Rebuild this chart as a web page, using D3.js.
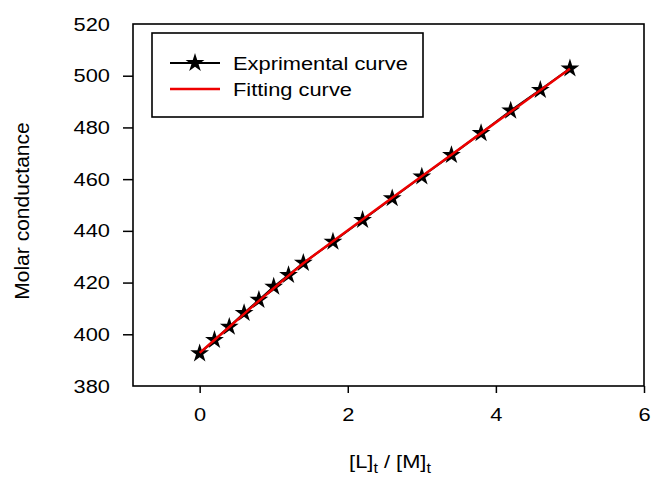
<!DOCTYPE html>
<html>
<head>
<meta charset="utf-8">
<script src="https://cdn.jsdelivr.net/npm/d3@7"></script>
<style>
  body { margin: 0; background: #fff; }
  text { font-family: 'Liberation Sans', Arial, sans-serif; }
</style>
</head>
<body>
<div id="chart"></div>
<script>
// data
var ratio = [0, 0.2, 0.4, 0.6, 0.8, 1.0, 1.2, 1.4, 1.8, 2.2, 2.6, 3.0, 3.4, 3.8, 4.2, 4.6, 5.0];
var experimental = [392.6, 397.8, 402.9, 408.2, 413.3, 418.4, 422.9, 427.6, 435.8, 444.2, 452.6, 461.0, 469.3, 477.8, 486.5, 494.5, 502.8];
var fitting = [392.8, 397.8, 402.8, 407.9, 412.9, 417.8, 422.7, 427.5, 436.0, 444.4, 452.8, 461.1, 469.4, 477.8, 486.1, 494.4, 502.7];
var xTicks = [0, 2, 4, 6];
var yTicks = [380, 400, 420, 440, 460, 480, 500, 520];
var legendLabels = ['Exprimental curve', 'Fitting curve'];

var width = 651, height = 479;
var margin = { top: 24, right: 7, bottom: 93, left: 133 };
var fs = 19;        // font size
var sx = 1.15;      // the original text is a bit wide

var svg = d3.select('#chart').append('svg')
    .attr('width', width)
    .attr('height', height);

var x = d3.scaleLinear().domain([-0.9, 6]).range([margin.left, width - margin.right]);
var y = d3.scaleLinear().domain([380, 520]).range([height - margin.bottom, margin.top]);

// axes
var xAxis = d3.axisBottom(x).tickValues(xTicks).tickFormat(d3.format('d'))
    .tickSize(7).tickPadding(15).tickSizeOuter(0);
var gx = svg.append('g')
    .attr('transform', 'translate(0,' + (height - margin.bottom) + ')')
    .call(xAxis);
var yAxis = d3.axisLeft(y).tickValues(yTicks.slice(1, -1)).tickFormat(d3.format('d'))
    .tickSize(10).tickSizeOuter(0);
var gy = svg.append('g')
    .attr('transform', 'translate(' + margin.left + ',0)')
    .call(yAxis);

// 380 and 520 labels have no tick mark
gy.selectAll('.endlabel')
    .data([yTicks[0], yTicks[yTicks.length - 1]])
    .join('text')
    .attr('class', 'endlabel')
    .attr('y', function(d) { return y(d); })
    .attr('dy', '0.35em')
    .attr('text-anchor', 'end')
    .text(function(d) { return d; });

[gx, gy].forEach(function(g) {
  g.select('.domain').remove();
  g.selectAll('line').attr('stroke', '#000').attr('stroke-width', 1.5);
  g.selectAll('text').attr('fill', '#000').style('font-size', fs + 'px')
    .attr('transform', 'scale(' + sx + ',1)');
});
gy.selectAll('text').attr('x', -23 / sx);

// plot frame
svg.append('rect')
    .attr('x', margin.left)
    .attr('y', margin.top)
    .attr('width', width - margin.right - margin.left)
    .attr('height', height - margin.bottom - margin.top)
    .attr('fill', 'none')
    .attr('stroke', '#000')
    .attr('stroke-width', 1.6);

// axis titles
svg.append('text')
    .attr('transform', 'translate(22,211) rotate(-90)')
    .attr('text-anchor', 'middle')
    .attr('dy', '0.35em')
    .style('font-size', '21px')
    .attr('fill', '#000')
    .text('Molar conductance');

var xt = svg.append('g')
    .attr('transform', 'translate(390,468) scale(' + sx + ',1)')
    .append('text')
    .attr('text-anchor', 'middle')
    .style('font-size', fs + 'px')
    .attr('fill', '#000');
xt.append('tspan').text('[L]');
xt.append('tspan').attr('dy', 5).style('font-size', '14px').text('t');
xt.append('tspan').attr('dy', -5).text(' / [M]');
xt.append('tspan').attr('dy', 5).style('font-size', '14px').text('t');

// series
var expData = ratio.map(function(r, i) { return [r, experimental[i]]; });
var fitData = ratio.map(function(r, i) { return [r, fitting[i]]; });
var line = d3.line().x(function(d) { return x(d[0]); }).y(function(d) { return y(d[1]); });
var star = d3.symbol().type(d3.symbolStar).size(110);

svg.append('path')
    .attr('d', line(expData))
    .attr('fill', 'none')
    .attr('stroke', '#000')
    .attr('stroke-width', 2);

svg.append('g').selectAll('path')
    .data(expData)
    .join('path')
    .attr('transform', function(d) { return 'translate(' + x(d[0]) + ',' + y(d[1]) + ')'; })
    .attr('d', star)
    .attr('fill', '#000');

svg.append('path')
    .attr('d', line(fitData))
    .attr('fill', 'none')
    .attr('stroke', '#ee0000')
    .attr('stroke-width', 2.5);

// legend
var lg = svg.append('g');
lg.append('rect')
    .attr('x', 152).attr('y', 33)
    .attr('width', 271).attr('height', 84)
    .attr('fill', '#fff')
    .attr('stroke', '#000')
    .attr('stroke-width', 1.6);

var legendRows = lg.selectAll('g.row')
    .data(legendLabels)
    .join('g')
    .attr('class', 'row')
    .attr('transform', function(d, i) { return 'translate(0,' + (63 + i * 26) + ')'; });

legendRows.append('line')
    .attr('x1', 170).attr('x2', 220)
    .attr('stroke', function(d, i) { return i === 0 ? '#000' : '#ee0000'; })
    .attr('stroke-width', function(d, i) { return i === 0 ? 2 : 2.5; });

legendRows.filter(function(d, i) { return i === 0; })
    .append('path')
    .attr('transform', 'translate(195,0)')
    .attr('d', star)
    .attr('fill', '#000');

legendRows.append('text')
    .attr('transform', 'translate(233,0) scale(' + sx + ',1)')
    .attr('dy', '0.35em')
    .style('font-size', fs + 'px')
    .attr('fill', '#000')
    .text(function(d) { return d; });
</script>
</body>
</html>
